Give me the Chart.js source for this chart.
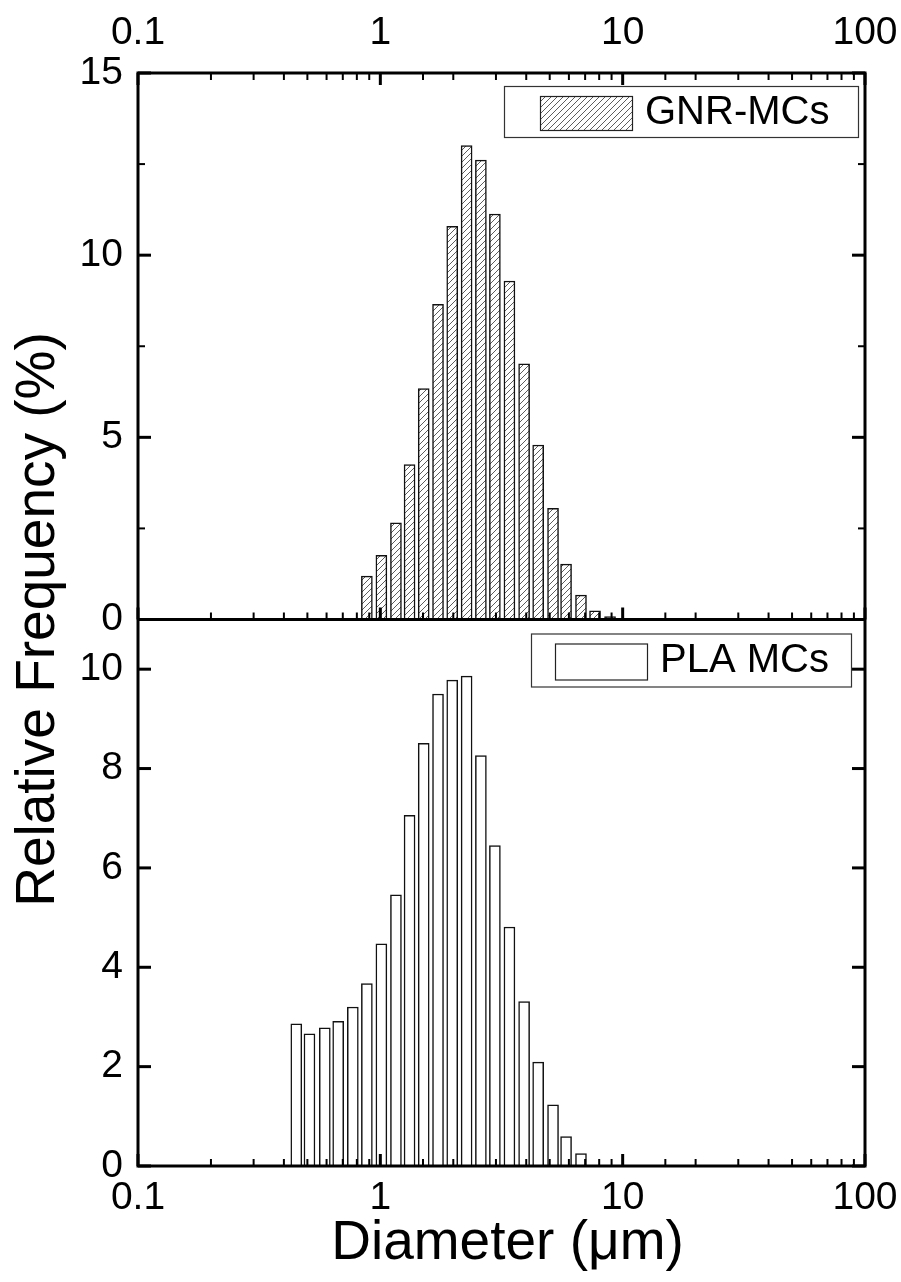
<!DOCTYPE html>
<html>
<head>
<meta charset="utf-8">
<title>Microcapsule size distribution</title>
<script src="https://cdn.jsdelivr.net/npm/chart.js@4.4.1/dist/chart.umd.min.js"></script>
<style>
  html, body { margin: 0; padding: 0; background: #fff; }
  #wrap { width: 901px; height: 1282px; }
</style>
</head>
<body>
<div id="wrap"><canvas id="sizeChart" width="901" height="1282"></canvas></div>
<script>
// bin centres (um) and relative frequency (%)
const gnrDiameter = [0.88, 1.01, 1.16, 1.32, 1.51, 1.73, 1.98, 2.27, 2.60, 2.97, 3.41, 3.92, 4.48, 5.16, 5.84, 6.73, 7.69, 8.87];
const gnrFreq     = [1.19, 1.76, 2.65, 4.25, 6.34, 8.65, 10.79, 13.01, 12.61, 11.13, 9.29, 7.02, 4.79, 3.05, 1.52, 0.67, 0.24, 0.08];

const plaDiameter = [0.45, 0.51, 0.59, 0.67, 0.77, 0.88, 1.01, 1.16, 1.32, 1.51, 1.73, 1.98, 2.27, 2.60, 2.97, 3.41, 3.92, 4.48, 5.16, 5.84, 6.73];
const plaFreq     = [2.86, 2.66, 2.78, 2.91, 3.20, 3.67, 4.47, 5.46, 7.06, 8.51, 9.50, 9.78, 9.86, 8.26, 6.45, 4.81, 3.31, 2.09, 1.23, 0.59, 0.25];

// labelled ticks
const xTickLabels = [0.1, 1, 10, 100];
const yTopLabels = [0, 5, 10, 15];
const yBotLabels = [0, 2, 4, 6, 8, 10];

const seriesNames = ['GNR-MCs', 'PLA MCs'];
const xTitle = 'Diameter (\u03bcm)';
const yTitle = 'Relative Frequency (%)';

const FONT = "'Liberation Sans', Arial, sans-serif";

const canvas = document.getElementById('sizeChart');
const ctx = canvas.getContext('2d');

// diagonal hatch used for the GNR bars
function makeHatch() {
  const tile = document.createElement('canvas');
  tile.width = 6;
  tile.height = 6;
  const g = tile.getContext('2d');
  g.fillStyle = '#fff';
  g.fillRect(0, 0, 6, 6);
  g.strokeStyle = '#333';
  g.lineWidth = 0.8;
  g.beginPath();
  g.moveTo(0, 6); g.lineTo(6, 0);
  g.moveTo(-1, 1); g.lineTo(1, -1);
  g.moveTo(5, 7); g.lineTo(7, 5);
  g.stroke();
  return ctx.createPattern(tile, 'repeat');
}

function matchIn(list, value) {
  return list.find(v => Math.abs(v - value) <= 1e-6 * Math.max(1, Math.abs(v)));
}

function labelFrom(list) {
  return value => {
    const m = matchIn(list, value);
    return m === undefined ? '' : String(m);
  };
}

function line(c, x1, y1, x2, y2) {
  c.beginPath();
  c.moveTo(x1, y1);
  c.lineTo(x2, y2);
  c.stroke();
}

// frame, middle divider and inward ticks on all sides
const panelFrame = {
  id: 'panelFrame',
  afterDraw(chart) {
    const { ctx: c, chartArea: a, scales } = chart;
    const x = scales.x;
    const mid = scales.yBot.top;
    c.save();
    c.strokeStyle = '#000';

    x.ticks.forEach(t => {
      const px = x.getPixelForValue(t.value);
      const major = matchIn(xTickLabels, t.value) !== undefined;
      const len = major ? 12 : 7;
      c.lineWidth = major ? 3 : 2;
      line(c, px, a.top, px, a.top + len);
      line(c, px, mid, px, mid - len);
      line(c, px, a.bottom, px, a.bottom - len);
    });

    [[scales.yTop, yTopLabels], [scales.yBot, yBotLabels]].forEach(([s, labels]) => {
      s.ticks.forEach(t => {
        const py = s.getPixelForValue(t.value);
        const major = matchIn(labels, t.value) !== undefined;
        const len = major ? 13 : 7;
        c.lineWidth = major ? 3 : 2;
        line(c, a.left, py, a.left + len, py);
        line(c, a.right, py, a.right - len, py);
      });
    });

    c.lineWidth = 3;
    c.strokeRect(a.left, a.top, a.right - a.left, a.bottom - a.top);
    line(c, a.left, mid, a.right, mid);
    c.restore();
  }
};

// one legend box in the upper right corner of each panel
const legendLayout = [
  { scale: 'yTop', rightInset: 7, topInset: 13, width: 354, height: 51, swatchInset: 36 },
  { scale: 'yBot', rightInset: 14, topInset: 14, width: 320, height: 53, swatchInset: 24 }
];

const panelLegends = {
  id: 'panelLegends',
  afterDraw(chart) {
    const { ctx: c, chartArea: a } = chart;
    c.save();
    legendLayout.forEach((L, i) => {
      const ds = chart.data.datasets[i];
      const s = chart.scales[L.scale];
      const left = a.right - L.rightInset - L.width;
      const top = s.top + L.topInset;
      c.fillStyle = '#fff';
      c.fillRect(left, top, L.width, L.height);
      c.strokeStyle = '#333';
      c.lineWidth = 1.2;
      c.strokeRect(left + 0.5, top + 0.5, L.width, L.height);

      const sw = { x: left + L.swatchInset, y: top + 10, w: 92, h: L.height - 17 };
      c.fillStyle = ds.backgroundColor;
      c.fillRect(sw.x, sw.y, sw.w, sw.h);
      c.strokeStyle = '#222';
      c.lineWidth = 1.2;
      c.strokeRect(sw.x + 0.5, sw.y + 0.5, sw.w, sw.h);

      c.fillStyle = '#000';
      c.font = '40px ' + FONT;
      c.textAlign = 'left';
      c.textBaseline = 'middle';
      c.fillText(ds.label, sw.x + sw.w + 13, top + L.height / 2 + 1);
    });
    c.restore();
  }
};

// axis titles
const axisTitles = {
  id: 'axisTitles',
  afterDraw(chart) {
    const { ctx: c, chartArea: a } = chart;
    c.save();
    c.fillStyle = '#000';
    c.font = '55px ' + FONT;
    c.textAlign = 'center';
    c.textBaseline = 'alphabetic';
    c.fillText(xTitle, (a.left + a.right) / 2 + 6, 1259);

    c.translate(54, (a.top + a.bottom) / 2);
    c.rotate(-Math.PI / 2);
    c.fillText(yTitle, 0, 0);
    c.restore();
  }
};

const tickFont = { family: FONT, size: 39 };

function logAxis(position, height, padding) {
  return {
    type: 'logarithmic',
    position: position,
    min: 0.1,
    max: 100,
    grid: { display: false, drawTicks: false },
    border: { display: false },
    ticks: {
      autoSkip: false,
      maxRotation: 0,
      padding: padding,
      color: '#000',
      font: tickFont,
      callback: labelFrom(xTickLabels)
    },
    afterFit: s => {
      s.height = height;
      // let the end labels hang over the layout padding
      s.paddingLeft = 0;
      s.paddingRight = 0;
    }
  };
}

function freqAxis(max, step, labels, weight) {
  return {
    type: 'linear',
    position: 'left',
    stack: 'panels',
    stackWeight: 1,
    weight: weight,
    min: 0,
    max: max,
    grid: { display: false, drawTicks: false },
    border: { display: false },
    ticks: {
      stepSize: step,
      padding: 15,
      color: '#000',
      font: tickFont,
      callback: labelFrom(labels)
    },
    afterFit: s => {
      s.width = 138;
      s.paddingTop = 0;
      s.paddingBottom = 0;
    }
  };
}

new Chart(ctx, {
  type: 'bar',
  data: {
    datasets: [
      {
        label: seriesNames[0],
        data: gnrDiameter.map((d, i) => ({ x: d, y: gnrFreq[i] })),
        yAxisID: 'yTop',
        backgroundColor: makeHatch(),
        borderColor: '#111',
        borderWidth: 1.5
      },
      {
        label: seriesNames[1],
        data: plaDiameter.map((d, i) => ({ x: d, y: plaFreq[i] })),
        yAxisID: 'yBot',
        backgroundColor: '#fff',
        borderColor: '#111',
        borderWidth: 1.5
      }
    ]
  },
  options: {
    responsive: false,
    animation: false,
    devicePixelRatio: 1,
    grouped: false,
    barPercentage: 1,
    categoryPercentage: 1,
    maxBarThickness: 11,
    layout: { padding: { top: 0, right: 36, bottom: 0, left: 0 } },
    plugins: {
      legend: { display: false },
      tooltip: { enabled: false }
    },
    scales: {
      x: logAxis('bottom', 116, 9),
      x2: logAxis('top', 73, 16),
      yTop: freqAxis(15, 2.5, yTopLabels, 1),
      yBot: freqAxis(11, 1, yBotLabels, 0)
    }
  },
  plugins: [panelFrame, panelLegends, axisTitles]
});
</script>
</body>
</html>
